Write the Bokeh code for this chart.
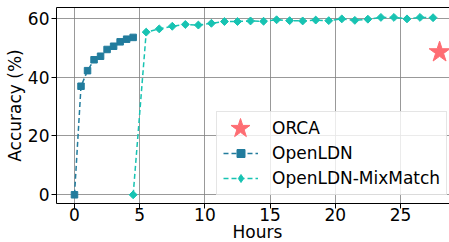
import math
from bokeh.plotting import figure
from bokeh.models import Range1d, FixedTicker, LinearAxis, Legend, LegendItem, Title
from bokeh.embed import file_html
from bokeh.resources import INLINE

# ---- data ----
openldn_hours = [0, 0.5, 1, 1.5, 2, 2.5, 3, 3.5, 4, 4.5]
openldn_acc = [0, 36.9, 42.2, 45.9, 47.1, 49.4, 50.5, 52.0, 52.9, 53.5]

mixmatch_hours = [4.5, 5.5, 6.5, 7.5, 8.5, 9.5, 10.5, 11.5, 12.5, 13.5, 14.5, 15.5,
                  16.5, 17.5, 18.5, 19.5, 20.5, 21.5, 22.5, 23.5, 24.5, 25.5, 26.5, 27.5]
mixmatch_acc = [0, 55.3, 56.4, 57.3, 57.9, 57.7, 58.3, 58.9, 58.9, 59.1, 59.0, 59.5,
                59.2, 59.1, 59.4, 59.2, 59.8, 59.3, 59.7, 60.3, 60.3, 59.8, 60.3, 60.2]

orca_hours = [28.0]
orca_acc = [48.5]

x_ticks = [0, 5, 10, 15, 20, 25]
y_ticks = [0, 20, 40, 60]

C_LDN = "#227C9D"
C_MIX = "#17C3B2"
C_ORCA = "#FE6D73"
FONT = "DejaVu Sans"
FS = "17px"

p = figure(width=449, height=242, output_backend="svg", toolbar_location=None,
           x_range=Range1d(-1.38, 28.76), y_range=Range1d(-2.96, 63.67),
           min_border_left=56, min_border_right=0, min_border_top=7, min_border_bottom=39)
p.outline_line_color = None
p.background_fill_color = "white"

for ax in (p.xaxis[0], p.yaxis[0]):
    ax.axis_line_color = "black"
    ax.axis_line_width = 1
    ax.major_tick_line_color = "black"
    ax.major_tick_out = 5
    ax.major_tick_in = 0
    ax.minor_tick_line_color = None
    ax.major_label_text_font = FONT
    ax.major_label_text_font_size = FS
    ax.major_label_text_color = "black"
    ax.axis_label_text_font = FONT
    ax.axis_label_text_font_size = FS
    ax.axis_label_text_font_style = "normal"
    ax.axis_label_text_color = "black"

p.xaxis.ticker = FixedTicker(ticks=x_ticks)
p.yaxis.ticker = FixedTicker(ticks=y_ticks)
p.yaxis.axis_label = "Accuracy (%)"
p.xaxis.major_label_standoff = -1
p.yaxis.major_label_standoff = 2
p.yaxis.axis_label_standoff = 0

# x-axis title as a compact Title in the bottom panel
p.add_layout(Title(text="Hours", text_font=FONT, text_font_size=FS, text_font_style="normal",
                   text_color="black", align="left", offset=176, vertical_align="bottom",
                   standoff=-7), "below")

top = LinearAxis(ticker=FixedTicker(ticks=[]), axis_line_color="black",
                 major_tick_line_color=None, minor_tick_line_color=None,
                 major_label_text_font_size="0px")
p.add_layout(top, "above")

p.xgrid.ticker = FixedTicker(ticks=x_ticks)
p.ygrid.ticker = FixedTicker(ticks=y_ticks)
p.grid.grid_line_color = "#808080"
p.grid.grid_line_width = 1
p.grid.grid_line_alpha = 0.8

r_ldn_l = p.line(openldn_hours, openldn_acc, line_color=C_LDN, line_width=1.5, line_dash="5 3")
r_ldn_m = p.scatter(openldn_hours, openldn_acc, marker="square", size=6.5,
                    fill_color=C_LDN, line_color=C_LDN)
r_mix_l = p.line(mixmatch_hours, mixmatch_acc, line_color=C_MIX, line_width=1.5, line_dash="5 3")
# small diamonds hidden under the markers; they give the legend its diamond symbol
r_mix_proxy = p.scatter(mixmatch_hours, mixmatch_acc, marker="diamond", size=5,
                        fill_color=C_MIX, line_color=C_MIX)
r_mix_m = p.scatter(mixmatch_hours, mixmatch_acc, marker="square", size=5.6, angle=math.pi / 4,
                    fill_color=C_MIX, line_color=C_MIX)
r_orca = p.scatter(orca_hours, orca_acc, marker="star", size=22,
                   fill_color=C_ORCA, line_color=C_ORCA)

legend = Legend(items=[
    LegendItem(label="ORCA", renderers=[r_orca]),
    LegendItem(label="OpenLDN", renderers=[r_ldn_l, r_ldn_m]),
    LegendItem(label="OpenLDN-MixMatch", renderers=[r_mix_l, r_mix_proxy]),
], location=(160, 8))
legend.label_text_font = FONT
legend.label_text_font_size = FS
legend.label_text_color = "black"
legend.glyph_width = 35
legend.glyph_height = 20
legend.label_height = 20
legend.spacing = 5
legend.padding = 6
legend.margin = 0
legend.label_standoff = 14
legend.border_line_color = "#cccccc"
legend.border_line_width = 1
legend.background_fill_color = "white"
legend.background_fill_alpha = 0.8
p.add_layout(legend, "center")

# overlay legend that draws the ORCA star at full size over the first row's symbol
star_legend = Legend(items=[LegendItem(label=" ", renderers=[r_orca])],
                     location=(159, 50), glyph_width=50, glyph_height=50,
                     label_width=0, label_height=0, label_standoff=0,
                     label_text_font_size="1px", padding=0, margin=0, spacing=0,
                     border_line_color=None, background_fill_alpha=0)
p.add_layout(star_legend, "center")

open("out.html", "w").write(file_html(p, INLINE))
